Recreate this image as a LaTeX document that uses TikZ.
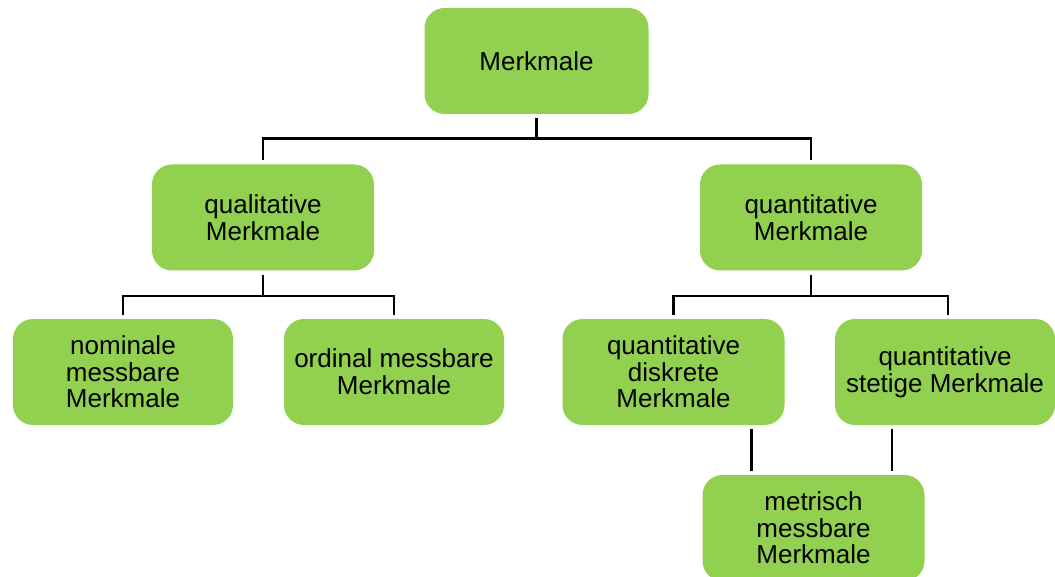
\documentclass[tikz,border=0pt]{standalone}
\usepackage{fontspec}
\setmainfont{Liberation Sans}
\usepackage{tikz}
\usetikzlibrary{positioning, calc}

\definecolor{boxgreen}{RGB}{146,208,80}

\begin{document}
\begin{tikzpicture}[x=0.5pt, y=-0.5pt,
    box/.style={draw=none, fill=boxgreen, rounded corners=10pt, align=center,
        minimum width=111pt, minimum height=53pt, inner sep=2pt,
        font=\fontsize{13}{13.3}\selectfont},
    link/.style={draw=black, line width=1.2pt, shorten <=2pt, shorten >=2pt}]

\useasboundingbox (0,0) rectangle (1055,577);

% Wurzel
\node[box, minimum width=112pt] (merkmale) at (536.5,61) {Merkmale};

% Ebene 1
\node[box] (qualitativ) at (263,217.5) {qualitative\\Merkmale};
\node[box] (quantitativ) at (811,217.5) {quantitative\\Merkmale};

% Ebene 2
\node[box, minimum width=110pt] (nominal) at (123,372) {nominale\\messbare\\Merkmale};
\node[box, minimum width=110pt] (ordinal) at (394,372) {ordinal messbare\\Merkmale};
\node[box] (diskret) at (673.5,372) {quantitative\\diskrete\\Merkmale};
\node[box, minimum width=110pt] (stetig) at (945,372) {quantitative\\stetige Merkmale};

% Ebene 3
\node[box] (metrisch) at (813.5,528) {metrisch\\messbare\\Merkmale};

% Verbindungen
\draw[link] (merkmale.south) -- ++(0,24) -| (qualitativ.north);
\draw[link] (merkmale.south) -- ++(0,24) -| (quantitativ.north);
\draw[link] (qualitativ.south) -- ++(0,25) -| (nominal.north);
\draw[link] (qualitativ.south) -- ++(0,25) -| (ordinal.north);
\draw[link] (quantitativ.south) -- ++(0,25) -| (diskret.north);
\draw[link] (quantitativ.south) -- ++(0,25) -| ([xshift=1.5pt]stetig.north);
\draw[link] ([xshift=39pt]diskret.south) -- ([xshift=39pt]diskret.south |- metrisch.north);
\draw[link] ([xshift=-26.5pt]stetig.south) -- ([xshift=-26.5pt]stetig.south |- metrisch.north);

\end{tikzpicture}
\end{document}
